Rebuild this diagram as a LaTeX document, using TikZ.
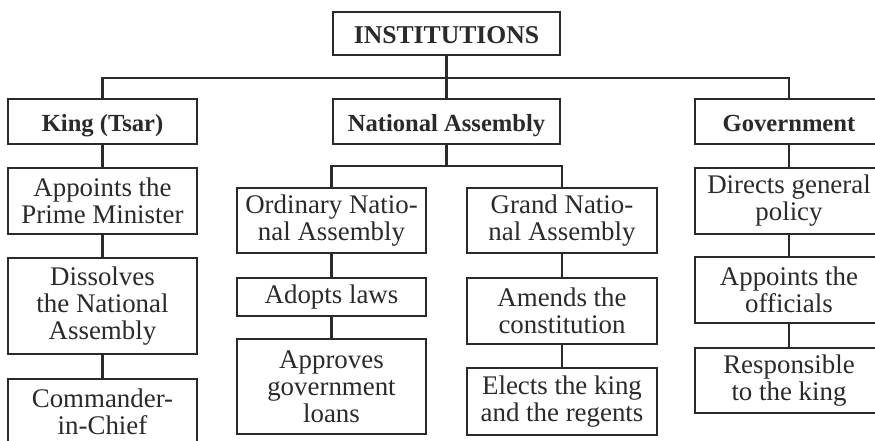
\documentclass[tikz,border=0pt]{standalone}
\usepackage{fontspec}
\setmainfont{Liberation Serif}
\usepackage{tikz}
\definecolor{inkgray}{HTML}{2A2A2A}
\tikzset{%
  % Specifications for style of nodes:
            base/.style = {rectangle, draw=inkgray, fill=white, line width=1pt,
                           align=center, inner sep=0pt, text=inkgray,
                           font=\fontsize{15.3}{15.4}\selectfont},
        headbox/.style = {base, minimum height=0.9cm, text height=11.4pt, text depth=0pt,
                           font=\fontsize{14}{15}\selectfont\bfseries},
        itembox/.style = {base, minimum width=3.78cm},
           link/.style = {draw=inkgray, line width=1.6pt},
}

\begin{document}
\begin{tikzpicture}[x=0.02cm, y=-0.02cm]
  \useasboundingbox (0,0) rectangle (875,440);

  % top level
\node (inst) at (446.5,33.5) [headbox, minimum width=4.54cm, minimum height=0.86cm,
      font=\fontsize{14.6}{15}\selectfont\bfseries] {INSTITUTIONS};
\coordinate (bus) at (446.5,78);

\node (king) at (102.5,121.5) [headbox, minimum width=3.78cm] {King (Tsar)};
\node (nat)  at (446.5,121.5) [headbox, minimum width=4.54cm] {National Assembly};
\node (gov)  at (789,121.5)   [headbox, minimum width=3.76cm] {Government};

\draw[link] (inst) -- (bus);
\draw[link] (bus) -- (nat);
\draw[link] (king.north) |- (bus) -| (gov.north);

  % King (Tsar)
\node (kingPm)  at (102.5,201) [itembox, minimum height=1.32cm] {Appoints the\\Prime Minister};
\node (kingDis) at (102.5,306) [itembox, minimum height=1.92cm] {Dissolves\\the National\\Assembly};
\node (kingCom) at (102.5,412) [itembox, minimum height=1.32cm] {Commander-\\in-Chief};

\draw[link] (king) -- (kingPm) -- (kingDis) -- (kingCom);

  % National Assembly
\coordinate (natBus) at (446.5,166);
\node (ordin) at (331.5,220.5) [itembox, minimum height=1.3cm] {Ordinary Natio-\\nal Assembly};
\node (grand) at (562,220.5)   [itembox, minimum width=3.8cm, minimum height=1.3cm] {Grand Natio-\\nal Assembly};

\draw[link] (nat) -- (natBus);
\draw[link] (ordin.north) |- (natBus) -| (grand.north);

\node (ordLaws)  at (331.5,297)   [itembox, minimum height=0.76cm] {Adopts laws};
\node (ordLoans) at (331.5,386.5) [itembox, minimum height=1.9cm] {Approves\\government\\loans};

\draw[link] (ordin) -- (ordLaws) -- (ordLoans);

\node (grAmend) at (562,311)   [itembox, minimum width=3.8cm, minimum height=1.32cm] {Amends the\\constitution};
\node (grElect) at (562,401.5) [itembox, minimum width=3.8cm, minimum height=1.34cm] {Elects the king\\and the regents};

\draw[link] (grand) -- (grAmend) -- (grElect);

  % Government
\node (govPol)  at (789,201)   [itembox, minimum width=3.76cm, minimum height=1.32cm] {Directs general\\policy};
\node (govOff)  at (789,290)   [itembox, minimum width=3.76cm, minimum height=1.32cm] {Appoints the\\officials};
\node (govResp) at (789,380.5) [itembox, minimum width=3.76cm, minimum height=1.3cm] {Responsible\\to the king};

\draw[link] (gov) -- (govPol) -- (govOff) -- (govResp);
\end{tikzpicture}
\end{document}
